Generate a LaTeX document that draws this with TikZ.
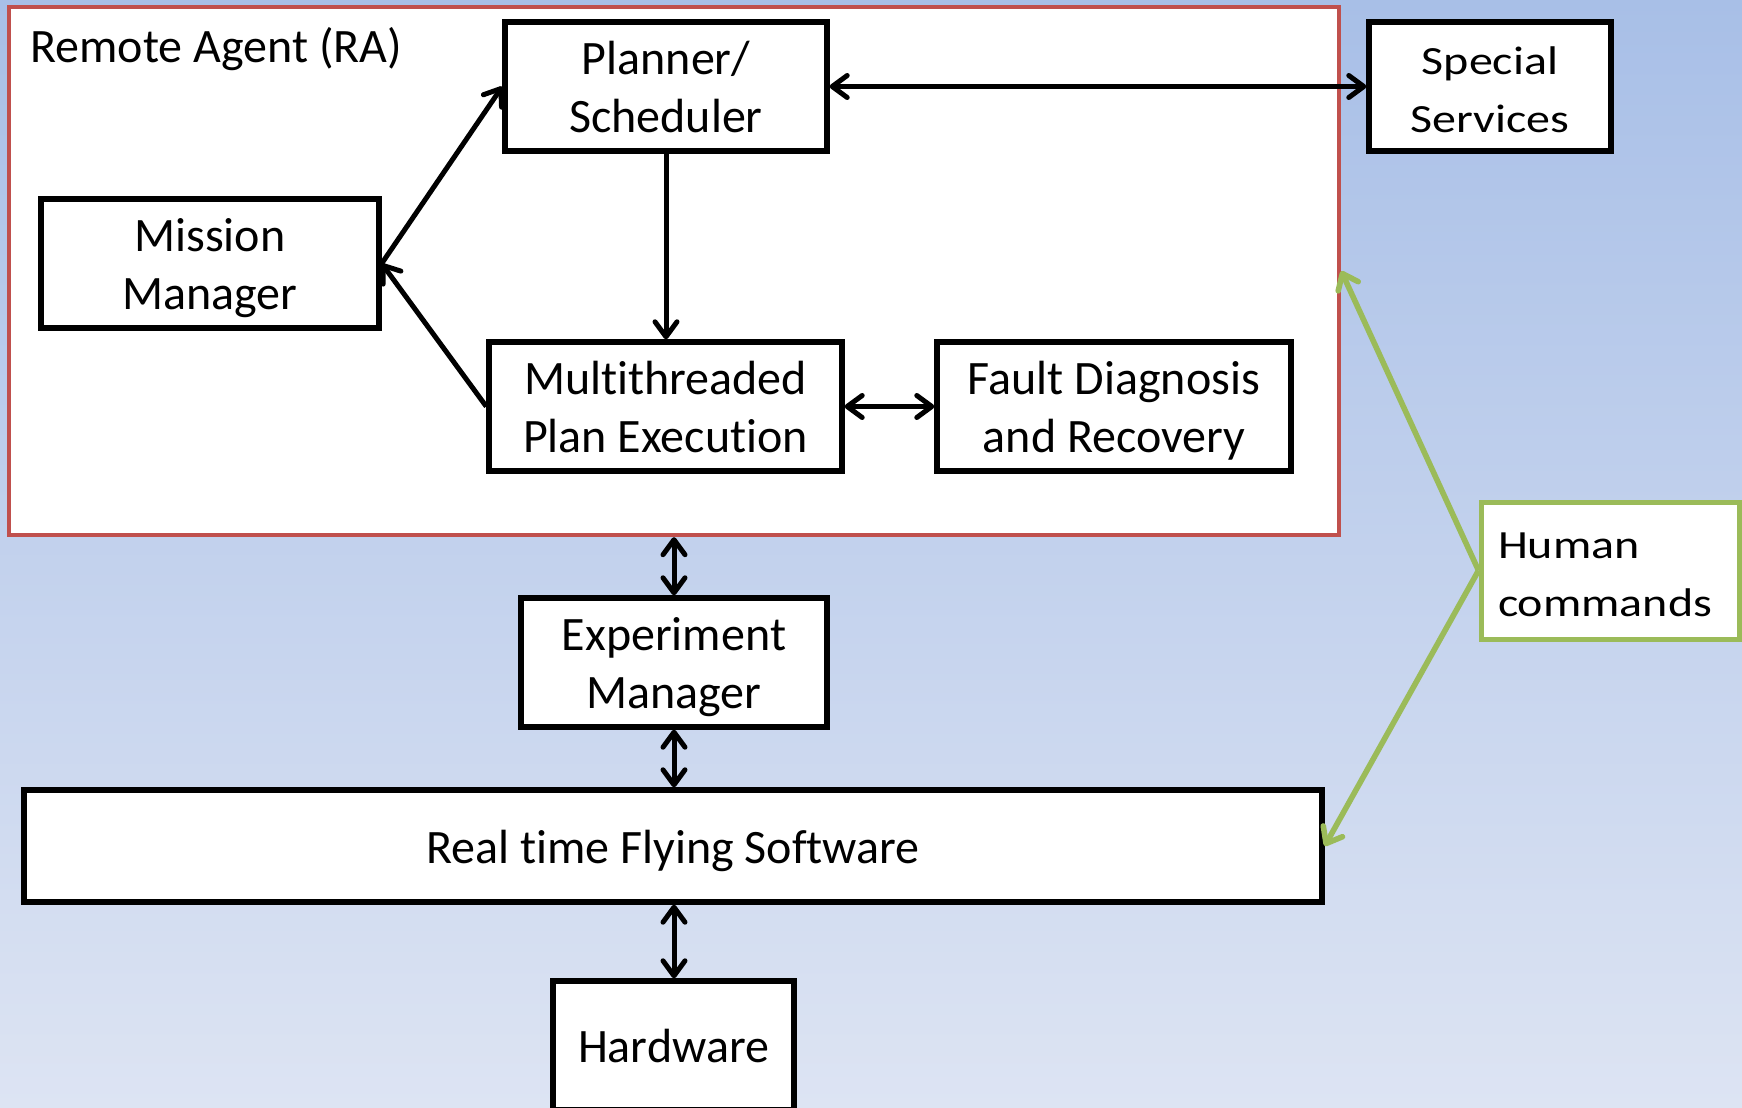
\documentclass[tikz,border=0pt]{standalone}
\usepackage{fontspec}
\setmainfont{Carlito}[Ligatures=NoCommon]
\newfontfamily\widefont[FakeStretch=1.2,Ligatures=NoCommon]{Carlito}
\usetikzlibrary{arrows.meta}
\definecolor{bgtop}{RGB}{168,191,231}
\definecolor{bgbot}{RGB}{221,228,243}
\definecolor{rared}{RGB}{192,80,77}
\definecolor{cmdgreen}{RGB}{155,187,89}
\tikzset{
  % two-line boxes: the text box's baseline is its last line
  box/.style={draw=black, line width=2.7pt, fill=white, align=center,
    font=\fontsize{24}{29}\selectfont, inner sep=0pt,
    text height=52pt, text depth=6pt},
  oneline/.style={text height=23pt},
  link/.style={line width=2.5pt, draw=black},
  cmdlink/.style={line width=2.8pt, draw=cmdgreen,
    >={Straight Barb[length=7pt,width=11pt,line width=2.8pt,round]}},
  >={Straight Barb[length=7.5pt,width=11pt,line width=2.5pt,round]},
}
\begin{document}
\begin{tikzpicture}[x=0.5pt, y=-0.5pt]
  % page and background gradient
  \useasboundingbox (0,0) rectangle (1742,1108);
  \shade[top color=bgtop, bottom color=bgbot] (0,0) rectangle (1742,1108);

  % Remote Agent container
  \node[draw=rared, line width=2.2pt, fill=white, minimum width=665pt,
        minimum height=264pt, inner sep=0pt] (ra) at (674,271) {};
  \node[anchor=base west, inner sep=0pt, font=\fontsize{24}{29}\selectfont] (ratitle) at (30,62) {Remote Agent (RA)};

  % components
  \node[box, minimum width=161pt, minimum height=64.5pt] (plan) at (666,86.5) {Planner/\\Scheduler};
  \node[box, minimum width=121pt, minimum height=64.5pt, font=\widefont\fontsize{20}{29}\selectfont] (spec) at (1490,86.5) {Special\\Services};
  \node[box, minimum width=169pt, minimum height=64.5pt] (miss) at (210,263.5) {Mission\\Manager};
  \node[box, minimum width=176.5pt, minimum height=64.5pt] (exec) at (665.5,406.5) {Multithreaded\\Plan Execution};
  \node[box, minimum width=177pt, minimum height=64.5pt] (fdir) at (1114,406.5) {Fault Diagnosis\\and Recovery};
  \node[box, minimum width=153pt, minimum height=64.5pt] (expm) at (674,662.5) {Experiment\\Manager};
  \node[box, oneline, minimum width=649pt, minimum height=56pt] (rtfs) at (673,846) {Real time Flying Software};
  \node[box, oneline, minimum width=120.5pt, minimum height=64.5pt] (hw) at (673.5,1045.5) {Hardware};
  \node[box, draw=cmdgreen, line width=2.5pt, minimum width=129pt, minimum height=68.5pt, align=left,
        font=\widefont\fontsize{20}{29}\selectfont] (human) at (1610,570.5)
        {\makebox[112pt][l]{Human}\\\makebox[112pt][l]{commands}};

  % connectors inside the agent
  \draw[link, ->] (miss.east) -- (plan.west);
  \draw[link, ->] (exec.west) -- (miss.east);
  \draw[link, ->] (plan.south) -- (plan.south |- exec.north);
  \draw[link, <->] (plan.east) -- (spec.west);
  \draw[link, <->] (exec.east) -- (fdir.west);

  % vertical stack
  \draw[link, <->] (ra.south) -- (ra.south |- expm.north);
  \draw[link, <->] (expm.south) -- (expm.south |- rtfs.north);
  \draw[link, <->] (expm.south |- rtfs.south) -- (expm.south |- hw.north);

  % human command paths
  \draw[cmdlink, ->] (human.west) -- (ra.east);
  \draw[cmdlink, ->] (human.west) -- (rtfs.east);
\end{tikzpicture}
\end{document}
